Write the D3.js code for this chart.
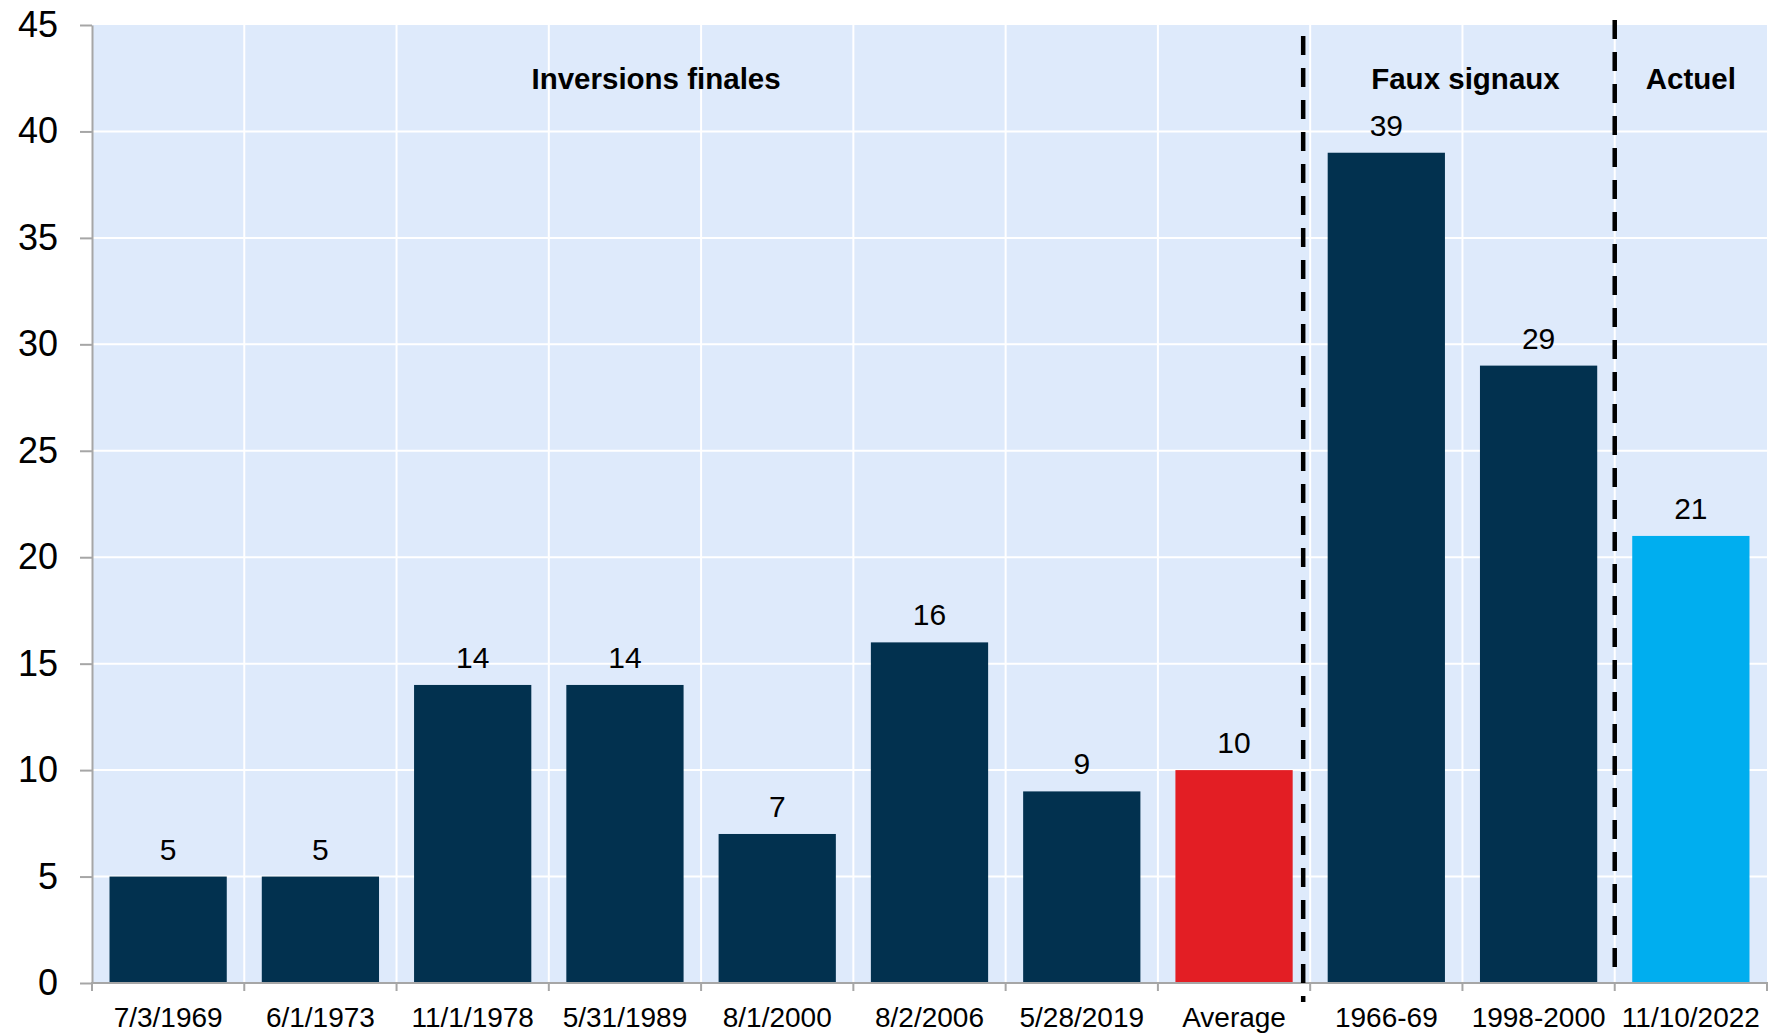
<!DOCTYPE html>
<html>
<head>
<meta charset="utf-8">
<script src="https://cdn.jsdelivr.net/npm/d3@7"></script>
<style>
  html, body { margin: 0; padding: 0; background: #ffffff; }
  svg { display: block; font-family: "Liberation Sans", Arial, sans-serif; }
</style>
</head>
<body>
<svg id="chart" width="1773" height="1035"></svg>
<script>
// Months from yield-curve inversion, by episode
const categories = ["7/3/1969", "6/1/1973", "11/1/1978", "5/31/1989", "8/1/2000",
                    "8/2/2006", "5/28/2019", "Average", "1966-69", "1998-2000", "11/10/2022"];
const values = [5, 5, 14, 14, 7, 16, 9, 10, 39, 29, 21];
const kinds = ["final", "final", "final", "final", "final", "final", "final",
               "average", "false", "false", "current"];
const yTicks = [0, 5, 10, 15, 20, 25, 30, 35, 40, 45];
const groupLabels = ["Inversions finales", "Faux signaux", "Actuel"];
const groupFirst = ["7/3/1969", "1966-69", "11/10/2022"];
const groupLast = ["Average", "1998-2000", "11/10/2022"];

const colors = { final: "#02314f", average: "#e31e24", false: "#02314f", current: "#00aeef" };

(function draw() {
  const svg = d3.select("#chart");
  const plotLeft = 92, plotRight = 1767, plotTop = 25, plotBottom = 983;

  const x = d3.scaleBand().domain(categories).range([plotLeft, plotRight])
    .paddingInner(0.23).paddingOuter(0.115);
  const y = d3.scaleLinear().domain([0, 45]).range([plotBottom, plotTop]);
  const step = x.step();
  const edge = i => plotLeft + i * step;

  // plot background
  svg.append("rect").attr("x", plotLeft).attr("y", plotTop)
    .attr("width", plotRight - plotLeft).attr("height", plotBottom - plotTop).attr("fill", "#deeafb");

  // grid
  const grid = svg.append("g").attr("stroke", "#ffffff").attr("stroke-width", 2);
  yTicks.filter(t => t > 0 && t < 45).forEach(t => {
    grid.append("line").attr("x1", plotLeft).attr("x2", plotRight).attr("y1", y(t)).attr("y2", y(t));
  });
  d3.range(1, categories.length).forEach(i => {
    grid.append("line").attr("x1", edge(i)).attr("x2", edge(i)).attr("y1", plotTop).attr("y2", plotBottom);
  });

  // bars
  svg.append("g").selectAll("rect").data(categories).join("rect")
    .attr("x", d => x(d))
    .attr("y", (d, i) => y(values[i]))
    .attr("width", x.bandwidth())
    .attr("height", (d, i) => y(0) - y(values[i]))
    .attr("fill", (d, i) => colors[kinds[i]]);

  // value labels
  svg.append("g").selectAll("text").data(categories).join("text")
    .attr("x", d => x(d) + x.bandwidth() / 2)
    .attr("y", (d, i) => y(values[i]) - 17)
    .attr("text-anchor", "middle")
    .attr("font-size", 30)
    .attr("fill", "#000")
    .text((d, i) => values[i]);

  // y axis
  const yAxis = svg.append("g").attr("transform", `translate(${plotLeft},0)`)
    .call(d3.axisLeft(y).tickValues(yTicks).tickSize(12).tickPadding(22).tickSizeOuter(0));
  yAxis.select(".domain").attr("stroke", "#a6a6a6").attr("stroke-width", 2);
  yAxis.selectAll(".tick line").attr("stroke", "#a6a6a6").attr("stroke-width", 2);
  yAxis.selectAll(".tick text").attr("font-size", 36).attr("fill", "#000")
    .attr("font-family", "Liberation Sans, Arial, sans-serif");

  // x axis
  const xAxis = svg.append("g").attr("transform", `translate(0,${plotBottom})`)
    .call(d3.axisBottom(x).tickSize(0).tickPadding(24));
  xAxis.select(".domain").remove();
  xAxis.selectAll(".tick text").attr("font-size", 28).attr("fill", "#000")
    .attr("font-family", "Liberation Sans, Arial, sans-serif");
  svg.append("line").attr("x1", plotLeft - 1).attr("x2", plotRight + 1)
    .attr("y1", plotBottom).attr("y2", plotBottom)
    .attr("stroke", "#a6a6a6").attr("stroke-width", 2);
  d3.range(0, categories.length + 1).forEach(i => {
    svg.append("line").attr("x1", edge(i)).attr("x2", edge(i))
      .attr("y1", plotBottom).attr("y2", plotBottom + 8)
      .attr("stroke", "#a6a6a6").attr("stroke-width", 2);
  });

  // dashed separators between groups
  const sepX = [edge(categories.indexOf("1966-69")) - 7, edge(categories.indexOf("11/10/2022"))];
  const sepY = [[36, 1002], [20, 977]];
  sepX.forEach((sx, i) => {
    svg.append("line").attr("x1", sx).attr("x2", sx)
      .attr("y1", sepY[i][0]).attr("y2", sepY[i][1])
      .attr("stroke", "#000").attr("stroke-width", 4.5)
      .attr("stroke-dasharray", "19,13");
  });

  // group headings
  const headingShift = [-45, 3, 0];
  groupLabels.forEach((g, i) => {
    const a = x(groupFirst[i]), b = x(groupLast[i]) + x.bandwidth();
    svg.append("text")
      .attr("x", (a + b) / 2 + headingShift[i])
      .attr("y", 89)
      .attr("text-anchor", "middle")
      .attr("font-size", 29.5)
      .attr("font-weight", "bold")
      .attr("fill", "#000")
      .text(g);
  });
})();
</script>
</body>
</html>
